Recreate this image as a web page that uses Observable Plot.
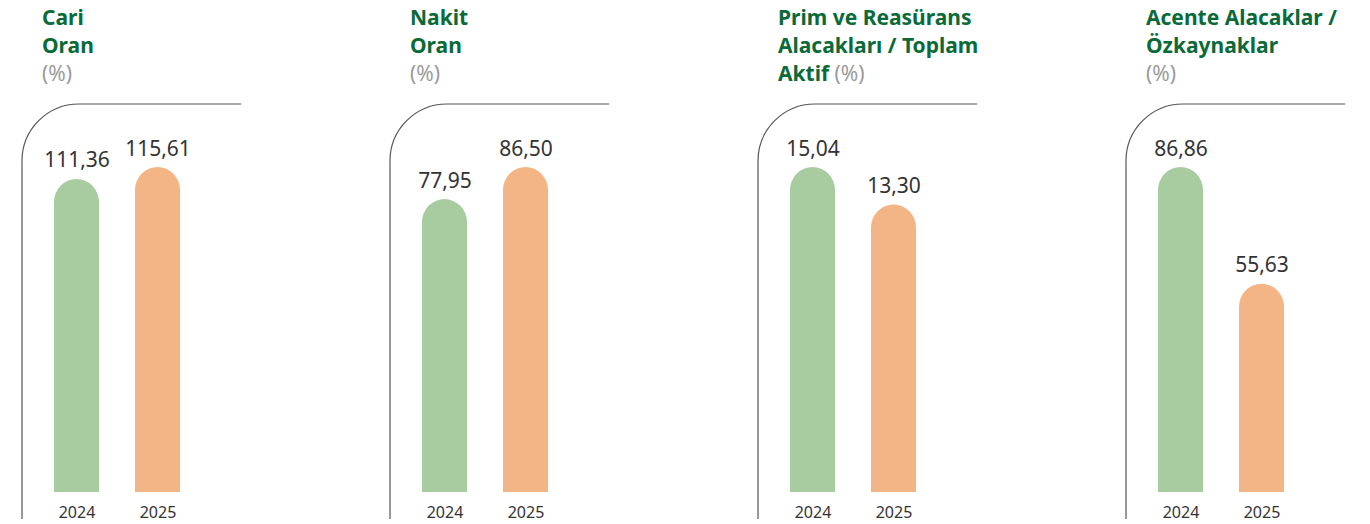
<!DOCTYPE html>
<html>
<head>
<meta charset="utf-8">
<script src="https://cdn.jsdelivr.net/npm/d3@7"></script>
<script src="https://cdn.jsdelivr.net/npm/@observablehq/plot@0.6"></script>
<style>
  html, body { margin: 0; padding: 0; background: #fff; }
  #row { display: flex; width: 1370px; height: 524px; overflow: hidden; }
  .panel { width: 368px; flex: none; display: flex; flex-direction: column; }
  .title { height: 92px; padding-top: 3px; padding-left: 42px; box-sizing: content-box;
           font-family: "Noto Sans", sans-serif; font-size: 21px; line-height: 28px;
           color: #0a6a38; font-weight: 700; white-space: nowrap; }
  .unit { color: #9a9a9a; font-weight: 400; }
  svg { display: block; }
</style>
</head>
<body>
<div id="row"></div>
<script>
// ---- data ----
const titleLines = [
  ["Cari", "Oran"],
  ["Nakit", "Oran"],
  ["Prim ve Reasürans", "Alacakları / Toplam", "Aktif"],
  ["Acente Alacaklar /", "Özkaynaklar"]
];
const unitInline = [false, false, true, false];
const unitLabel = "(%)";
const years = ["2024", "2025"];
const values2024 = [111.36, 77.95, 15.04, 86.86];
const values2025 = [115.61, 86.50, 13.30, 55.63];
const barColors = ["#a9cba0", "#f3b586"];

const fmt = v => v.toFixed(2).replace(".", ",");

const row = document.getElementById("row");

titleLines.forEach((lines, i) => {
  const panel = document.createElement("div");
  panel.className = "panel";
  const title = document.createElement("div");
  title.className = "title";
  let html = lines.join("<br>");
  html += unitInline[i] ? ` <span class="unit">${unitLabel}</span>` : `<br><span class="unit">${unitLabel}</span>`;
  title.innerHTML = html;
  panel.appendChild(title);

  const data = years.map((y, j) => ({year: y, value: [values2024, values2025][j][i]}));
  const max = d3.max(data, d => d.value);

  const frameMark = (index, scales, values, dims) => {
    const {width, height, marginLeft, marginTop, marginRight, marginBottom} = dims;
    const r = 57;
    const l = marginLeft, t = marginTop, rt = width - marginRight, b = height - marginBottom;
    const p = d3.create("svg:path")
      .attr("d", `M${l},${b}L${l},${t + r}A${r},${r} 0 0 1 ${l + r},${t}L${rt},${t}`)
      .attr("fill", "none")
      .attr("stroke", "#555")
      .attr("stroke-width", 1.2);
    return p.node();
  };

  const chart = Plot.plot({
    width: 368,
    height: 429,
    marginLeft: 22,
    marginTop: 9,
    marginRight: 127,
    marginBottom: 5,
    style: {fontFamily: "Noto Sans, sans-serif", overflow: "visible", background: "#fff"},
    x: {domain: years, range: [53, 181], paddingInner: 0.439, paddingOuter: 0, axis: null},
    y: {domain: [0, max], range: [397, 72], axis: null},
    color: {domain: years, range: barColors},
    marks: [
      frameMark,
      Plot.barY(data, {x: "year", y: "value", fill: "year", rx: 23}),
      Plot.barY(data, {x: "year", y: "value", fill: "year", insetTop: 23}),
      Plot.text(data, {x: "year", y: "value", text: d => fmt(d.value), dy: -12,
        lineAnchor: "bottom", fontSize: 21, fill: "#333"}),
      Plot.text(years, {x: d => d, text: d => d, frameAnchor: "bottom", lineAnchor: "bottom",
        dy: -2, fontSize: 16, fill: "#333"})
    ]
  });
  panel.appendChild(chart);
  row.appendChild(panel);
});
</script>
</body>
</html>
